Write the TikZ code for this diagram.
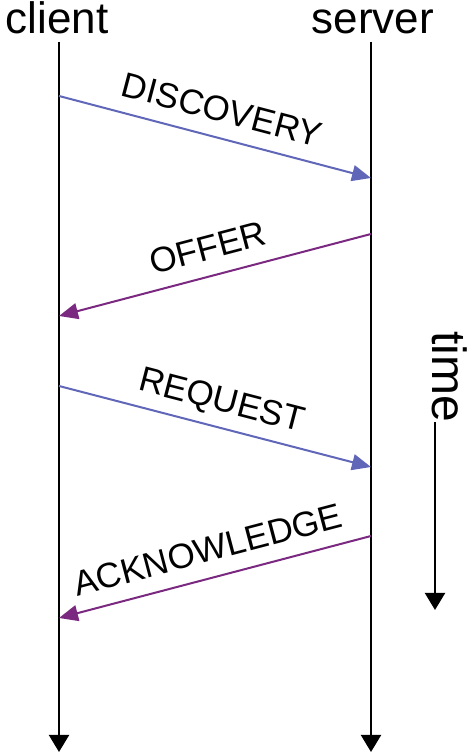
\documentclass[tikz,border=0pt]{standalone}
\usepackage{fontspec}
\setmainfont{Liberation Sans}
\usetikzlibrary{arrows.meta}
\definecolor{askblue}{RGB}{96,102,184}
\definecolor{replypurple}{RGB}{122,40,128}

\begin{document}
\begin{tikzpicture}[x=1pt,y=1pt,
  lifeline/.style={draw=black,line width=2pt,-{Triangle[length=17pt,width=20pt]}},
  msg/.style={line width=2pt,-{Triangle[length=19pt,width=16pt]}},
  msglabel/.style={midway,sloped,above=15pt,inner sep=0pt,text height=25pt,text depth=0pt,text=black,font=\fontsize{35}{40}\selectfont},
  partylabel/.style={anchor=base,inner sep=0pt,font=\fontsize{44}{50}\selectfont}]
\useasboundingbox (0,0) rectangle (467,753);

% Text Node
\node [partylabel] (client) at (57,719) {client};
% Text Node
\node [partylabel] (server) at (373,719) {server};

% Lifeline ends
\coordinate (client top) at (59,711);
\coordinate (client end) at (59,1);
\coordinate (server top) at (371,711);
\coordinate (server end) at (371,1);

% Message ends
\coordinate (c1) at (59,657);
\coordinate (s1) at (371,575);
\coordinate (s2) at (371,519);
\coordinate (c2) at (59,437);
\coordinate (c3) at (59,367);
\coordinate (s3) at (371,286);
\coordinate (s4) at (371,217);
\coordinate (c4) at (59,135);

%Straight Lines
\draw [lifeline] (client top) -- (client end);
%Straight Lines
\draw [lifeline] (server top) -- (server end);

%Straight Lines
\draw [msg,color=askblue] (c1) -- (s1) node [msglabel] {DISCOVERY};
%Straight Lines
\draw [msg,color=replypurple] (s2) -- (c2) node [msglabel] {OFFER};
%Straight Lines
\draw [msg,color=askblue] (c3) -- (s3) node [msglabel] {REQUEST};
%Straight Lines
\draw [msg,color=replypurple] (s4) -- (c4) node [msglabel] {ACKNOWLEDGE};

% Text Node
\node [rotate=-90,anchor=mid east,inner sep=0pt,font=\fontsize{48}{54}\selectfont] (time) at (435,331) {time};
\coordinate (time end) at (435,143);
%Straight Lines
\draw [lifeline] (time.mid east) -- (time end);

\end{tikzpicture}
\end{document}
